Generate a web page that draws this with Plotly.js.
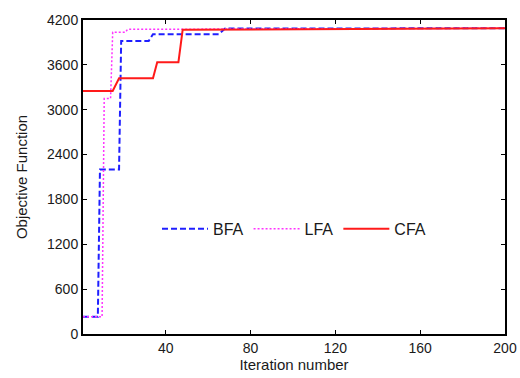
<!DOCTYPE html>
<html>
<head>
<meta charset="utf-8">
<script src="https://cdn.plot.ly/plotly-3.0.1.min.js"></script>
<style>html,body{margin:0;padding:0;background:#fff;}#chart{width:520px;height:378px;}</style>
</head>
<body>
<div id="chart"></div>
<script>
// Step breakpoints (iteration, objective value)
const bfaIter  = [1, 8, 9, 18, 19, 32, 34, 65, 68, 200];
const bfaValue = [230, 230, 2200, 2200, 3920, 3920, 4010, 4010, 4085, 4090];

const lfaIter  = [1, 10, 11, 14, 15, 21, 22, 200];
const lfaValue = [230, 230, 3150, 3150, 4035, 4035, 4075, 4090];

const cfaIter  = [1, 15, 18, 34, 36, 46, 48, 200];
const cfaValue = [3250, 3250, 3420, 3420, 3635, 3635, 4070, 4090];

const xTicks = [40, 80, 120, 160, 200];
const yTicks = [0, 600, 1200, 1800, 2400, 3000, 3600, 4200];

const fam = 'Liberation Sans, Arial, sans-serif';
const font = {family: fam, size: 14, color: '#1a1a1a'};

const traces = [
  {x: bfaIter, y: bfaValue, name: 'BFA', mode: 'lines',
   line: {color: '#1f1fff', width: 2, dash: '6px,3px'}},
  {x: lfaIter, y: lfaValue, name: 'LFA', mode: 'lines',
   line: {color: '#ff33ff', width: 1.5, dash: '2px,2px'}},
  {x: cfaIter, y: cfaValue, name: 'CFA', mode: 'lines',
   line: {color: '#ff1a1a', width: 2}}
];

const axisCommon = {
  showgrid: false, zeroline: false, showline: true, mirror: 'ticks',
  linecolor: '#000', linewidth: 2, ticks: 'inside', ticklen: 4,
  tickcolor: '#000', tickwidth: 1, tickfont: font
};

const layout = {
  width: 520, height: 378,
  margin: {l: 83, r: 15, t: 20, b: 44},
  paper_bgcolor: '#fff', plot_bgcolor: '#fff',
  font: font,
  showlegend: true,
  legend: {orientation: 'h', x: 0.5, xanchor: 'center', y: 0.335, yanchor: 'middle',
           bgcolor: 'rgba(0,0,0,0)', font: {family: fam, size: 16, color: '#1a1a1a'},
           itemwidth: 46},
  xaxis: Object.assign({}, axisCommon, {
    range: [1, 200], tickvals: xTicks, ticktext: xTicks.map(String),
    title: {text: 'Iteration number', font: {family: fam, size: 15, color: '#1a1a1a'}, standoff: 4}
  }),
  yaxis: Object.assign({}, axisCommon, {
    range: [0, 4200], tickvals: yTicks, ticktext: yTicks.map(String),
    title: {text: 'Objective Function', font: {family: fam, size: 15, color: '#1a1a1a'}, standoff: 16}
  })
};

Plotly.newPlot('chart', traces, layout, {staticPlot: true, displayModeBar: false});
</script>
</body>
</html>
